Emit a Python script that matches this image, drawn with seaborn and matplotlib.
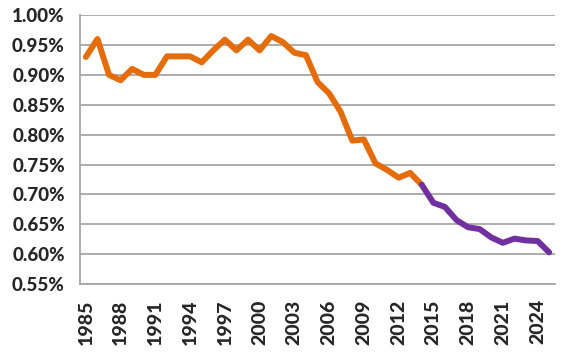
import matplotlib
matplotlib.use("Agg")
import matplotlib.pyplot as plt
import seaborn as sns
import numpy as np
import pandas as pd
from matplotlib.ticker import FuncFormatter, MultipleLocator

ORANGE = "#E46C0A"
PURPLE = "#7030A0"
GRID = "#A6A6A6"

# historical (orange) and projected (purple) values, percent
hist_years = list(range(1985, 2015))
hist_vals = [0.930, 0.960, 0.900, 0.891, 0.910, 0.900, 0.900, 0.931, 0.931, 0.931,
             0.921, 0.941, 0.959, 0.941, 0.959, 0.941, 0.965, 0.955, 0.937, 0.933,
             0.888, 0.869, 0.838, 0.790, 0.792, 0.752, 0.741, 0.728, 0.736, 0.716]
proj_years = list(range(2014, 2026))
proj_vals = [0.716, 0.686, 0.679, 0.657, 0.645, 0.642, 0.628, 0.619, 0.626, 0.623,
             0.622, 0.603]
label_years = list(range(1985, 2026, 3))

sns.set_style("white")
plt.rcParams["font.family"] = ["Lato", "DejaVu Sans"]

df_hist = pd.DataFrame({"year": hist_years, "val": hist_vals})
df_proj = pd.DataFrame({"year": proj_years, "val": proj_vals})

fig = plt.figure(figsize=(5.64, 3.6), dpi=100)
ax = fig.add_axes([0.142, 0.211, 0.842, 0.747])

sns.lineplot(data=df_hist, x="year", y="val", color=ORANGE, linewidth=4.3,
             solid_capstyle="round", solid_joinstyle="round", ax=ax)
sns.lineplot(data=df_proj, x="year", y="val", color=PURPLE, linewidth=4.3,
             solid_capstyle="round", solid_joinstyle="round", ax=ax)

ax.set_ylim(0.55, 1.00)
ax.set_xlim(1984.5, 2025.5)
ax.yaxis.set_major_locator(MultipleLocator(0.05))
ax.yaxis.set_major_formatter(FuncFormatter(lambda v, _: f"{v:.2f}%"))
ax.grid(axis="y", color=GRID, linewidth=1.3)
ax.set_axisbelow(True)

ax.set_xticks(label_years)
ax.set_xticklabels([str(y) for y in label_years], rotation=90)
ax.set_xticks(np.arange(1984.5, 2026, 1), minor=True)
ax.tick_params(axis="x", which="major", length=0, pad=11)
ax.tick_params(axis="x", which="minor", length=5, width=1, color=GRID, direction="out")
ax.tick_params(axis="y", length=5, width=1, color=GRID, direction="out", pad=6)
for lab in ax.get_xticklabels():
    lab.set_fontweight("black")
    lab.set_fontsize(14)
for lab in ax.get_yticklabels():
    lab.set_fontweight("black")
    lab.set_fontsize(13.5)

ax.set_xlabel("")
ax.set_ylabel("")
for s in ["top", "right"]:
    ax.spines[s].set_visible(False)
for s in ["left", "bottom"]:
    ax.spines[s].set_color(GRID)
    ax.spines[s].set_linewidth(1.3)

plt.savefig("out.png", dpi=100, facecolor="w")
